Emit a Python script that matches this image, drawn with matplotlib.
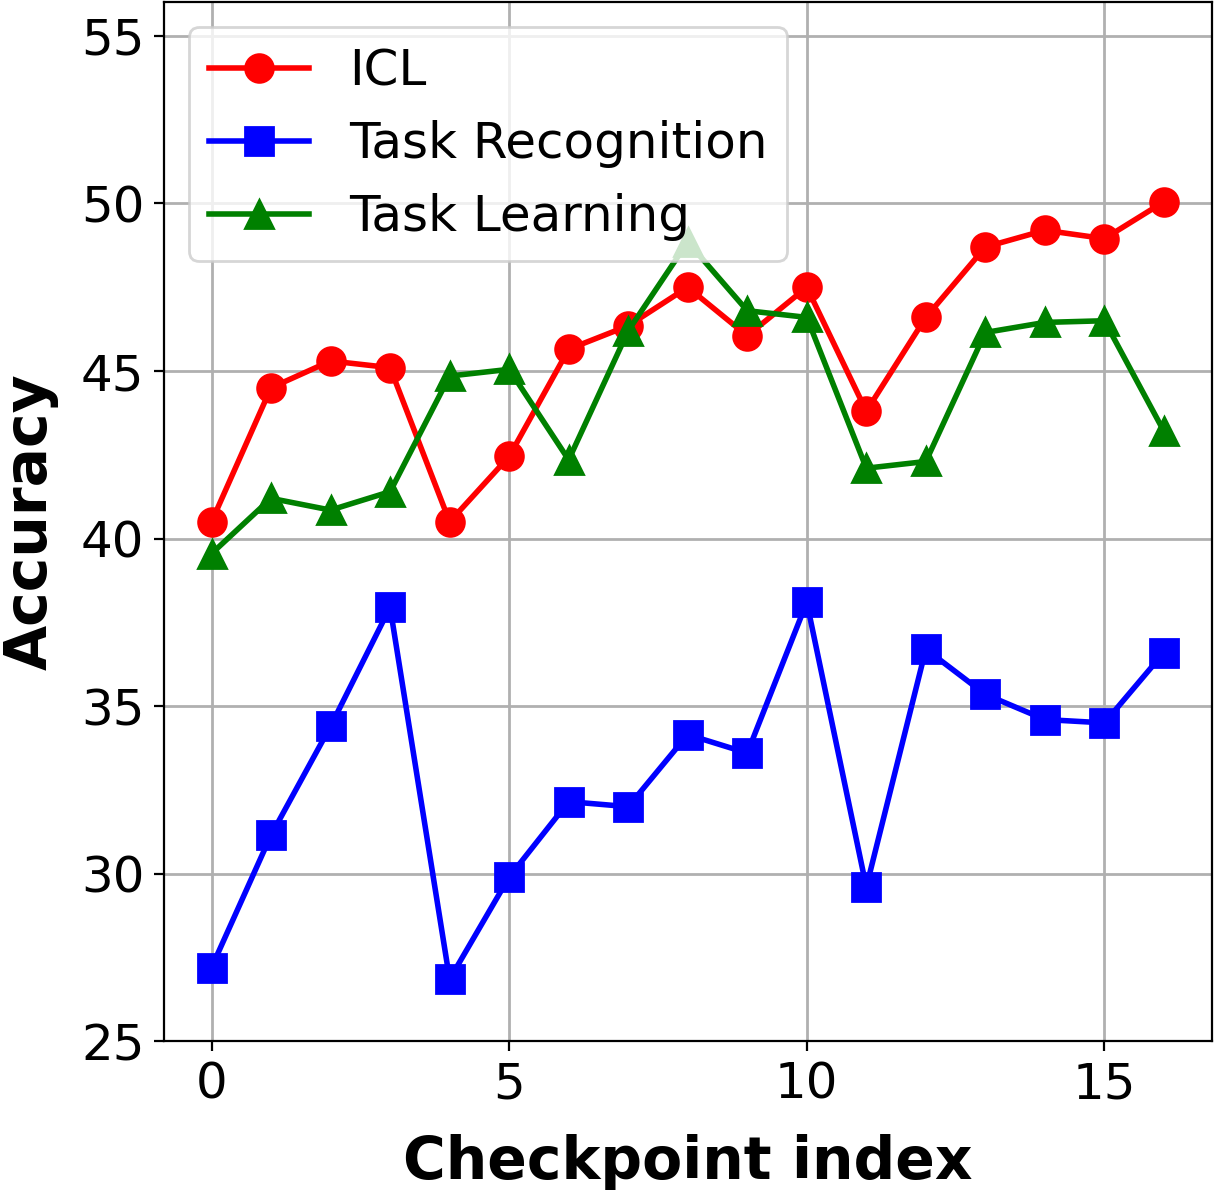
import numpy as np
import matplotlib
matplotlib.use("Agg")
import matplotlib.pyplot as plt

checkpoints = np.arange(17)
icl = [40.5, 44.5, 45.3, 45.1, 40.5, 42.45, 45.65, 46.35, 47.5, 46.05, 47.5,
       43.8, 46.6, 48.7, 49.2, 48.95, 50.05]
task_recognition = [27.2, 31.15, 34.4, 37.95, 26.85, 29.9, 32.15, 32.0, 34.15,
                    33.6, 38.1, 29.6, 36.7, 35.35, 34.6, 34.5, 36.6]
task_learning = [39.55, 41.2, 40.85, 41.4, 44.85, 45.05, 42.35, 46.2, 48.85,
                 46.8, 46.6, 42.1, 42.3, 46.15, 46.45, 46.5, 43.2]

fig, ax = plt.subplots(figsize=(6.07, 5.95), dpi=200)
fig.subplots_adjust(left=0.135, right=0.998, top=0.998, bottom=0.125)

ax.plot(checkpoints, icl, color="red", marker="o", lw=2, ms=10, label="ICL")
ax.plot(checkpoints, task_recognition, color="blue", marker="s", lw=2, ms=10,
        label="Task Recognition")
ax.plot(checkpoints, task_learning, color="green", marker="^", lw=2, ms=10,
        label="Task Learning")

ax.set_ylim(25, 56)
ax.set_yticks([25, 30, 35, 40, 45, 50, 55])
ax.set_xticks([0, 5, 10, 15])
ax.tick_params(labelsize=18)
ax.set_xlabel("Checkpoint index", fontsize=21, fontweight="bold", labelpad=9)
ax.set_ylabel("Accuracy", fontsize=21, fontweight="bold", labelpad=8)
ax.grid(True, color="#b0b0b0", lw=1)
ax.legend(loc="upper left", fontsize=18)

plt.savefig("out.png", dpi=200)
